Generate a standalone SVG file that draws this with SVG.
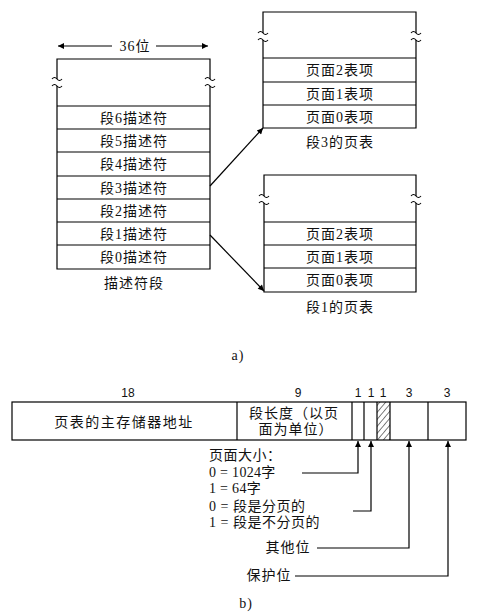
<svg xmlns="http://www.w3.org/2000/svg" width="477" height="616" viewBox="0 0 477 616">
<style>
.ln{fill:none;stroke:#000;stroke-width:1.2}
.t{font-family:"Liberation Serif","Noto Sans CJK SC",serif;font-size:14px;fill:#111;letter-spacing:1px}
.c{text-anchor:middle}
.n{font-family:"Liberation Sans",Arial,sans-serif;font-size:12px;fill:#111;text-anchor:middle}
</style>
<defs>
<marker id="ah" viewBox="0 0 10 10" refX="10" refY="5" markerWidth="8" markerHeight="6" orient="auto" markerUnits="userSpaceOnUse">
<path d="M0,0 L10,5 L0,10 z" fill="#000"/>
</marker>
<path id="brk" d="M-5,-2 q2.5,-3 5,0 t5,0 M-5,5 q2.5,-3 5,0 t5,0" fill="none" stroke="#000" stroke-width="1.1"/>
<pattern id="hatch" width="4.5" height="4.5" patternUnits="userSpaceOnUse" patternTransform="rotate(40)">
<line x1="0" y1="0" x2="0" y2="4.5" stroke="#000" stroke-width="1"/>
</pattern>
</defs>

<!-- part a -->
<g id="width-label">
<line class="ln" x1="112" y1="46" x2="58" y2="46" marker-end="url(#ah)"/>
<line class="ln" x1="156" y1="46" x2="208" y2="46" marker-end="url(#ah)"/>
<text class="t c" x="135" y="51">36位</text>
</g>

<g id="descriptor-segment">
<path class="ln" d="M57,79 V59 H210 V79 M57,86 V269 H210 V86"/>
<use href="#brk" x="57" y="81"/>
<use href="#brk" x="210" y="81"/>
<path class="ln" d="M57,106 H210 M57,129 H210 M57,152 H210 M57,176 H210 M57,199 H210 M57,222 H210 M57,245 H210"/>
<text class="t c" x="134" y="122.5">段6描述符</text>
<text class="t c" x="134" y="145.5">段5描述符</text>
<text class="t c" x="134" y="169">段4描述符</text>
<text class="t c" x="134" y="192.5">段3描述符</text>
<text class="t c" x="134" y="215.5">段2描述符</text>
<text class="t c" x="134" y="238.5">段1描述符</text>
<text class="t c" x="134" y="262">段0描述符</text>
<text class="t c" x="134" y="288">描述符段</text>
</g>

<g id="seg3-page-table">
<path class="ln" d="M263,33 V12 H416 V33 M263,40 V128 H416 V40"/>
<use href="#brk" x="263" y="35"/>
<use href="#brk" x="416" y="35"/>
<path class="ln" d="M263,58 H416 M263,82 H416 M263,105 H416"/>
<text class="t c" x="340" y="75">页面2表项</text>
<text class="t c" x="340" y="98.5">页面1表项</text>
<text class="t c" x="340" y="121.5">页面0表项</text>
<text class="t c" x="340" y="147">段3的页表</text>
</g>

<g id="seg1-page-table">
<path class="ln" d="M264,196 V175 H416 V196 M264,203 V292 H416 V203"/>
<use href="#brk" x="264" y="198"/>
<use href="#brk" x="416" y="198"/>
<path class="ln" d="M264,222 H416 M264,245 H416 M264,268 H416"/>
<text class="t c" x="340" y="238.5">页面2表项</text>
<text class="t c" x="340" y="261.5">页面1表项</text>
<text class="t c" x="340" y="285">页面0表项</text>
<text class="t c" x="340" y="312">段1的页表</text>
</g>

<g id="connectors">
<line class="ln" x1="210" y1="186" x2="263" y2="128" marker-end="url(#ah)"/>
<line class="ln" x1="210" y1="235" x2="264" y2="291" marker-end="url(#ah)"/>
<polyline class="ln" points="302,473 358,473 358,441" marker-end="url(#ah)"/>
<polyline class="ln" points="353,511 371,511 371,441" marker-end="url(#ah)"/>
<polyline class="ln" points="317,548 409,548 409,441" marker-end="url(#ah)"/>
<polyline class="ln" points="295,576 448,576 448,441" marker-end="url(#ah)"/>
</g>

<text class="t c" x="238" y="360">a)</text>

<!-- part b -->
<g id="descriptor-format">
<rect x="377" y="402" width="13" height="38" fill="url(#hatch)"/>
<rect class="ln" x="12" y="402" width="454" height="38"/>
<path class="ln" d="M237,402 V440 M352,402 V440 M364,402 V440 M377,402 V440 M390,402 V440 M428,402 V440"/>
<text class="n" x="128" y="397">18</text>
<text class="n" x="298" y="397">9</text>
<text class="n" x="358" y="397">1</text>
<text class="n" x="371" y="397">1</text>
<text class="n" x="383" y="397">1</text>
<text class="n" x="409" y="397">3</text>
<text class="n" x="447" y="397">3</text>
<text class="t c" x="124" y="427" style="letter-spacing:1.5px">页表的主存储器地址</text>
<text class="t c" x="294" y="418">段长度（以页</text>
<text class="t c" x="296" y="434">面为单位）</text>
</g>

<g id="field-labels">
<text class="t" x="209" y="460" style="letter-spacing:0.5px">页面大小：</text>
<text class="t" x="209" y="477" style="letter-spacing:0.3px">0 = 1024字</text>
<text class="t" x="209" y="493" style="letter-spacing:0.3px">1 = 64字</text>
<text class="t" x="209" y="511" style="letter-spacing:0.5px">0 = 段是分页的</text>
<text class="t" x="209" y="527" style="letter-spacing:0.5px">1 = 段是不分页的</text>
<text class="t c" x="288" y="552">其他位</text>
<text class="t c" x="269" y="580">保护位</text>
</g>

<text class="t c" x="246" y="608">b)</text>
</svg>
